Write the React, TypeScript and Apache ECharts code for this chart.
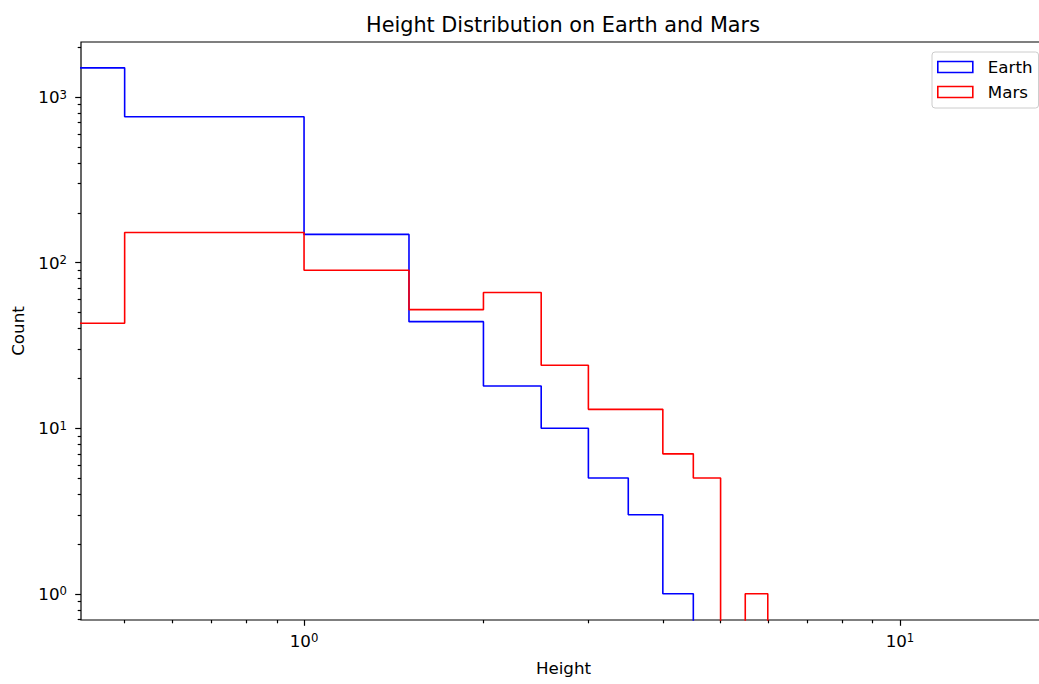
import React, { useEffect, useRef } from "react";
import * as echarts from "echarts";

// Histogram bins (bin width 0.5) and counts per bin
const binEdges = [0, 0.5, 1, 1.5, 2, 2.5, 3, 3.5, 4, 4.5, 5, 5.5, 6];
const earthCounts = [1500, 760, 148, 44, 18, 10, 5, 3, 1, 0, 0, 0];
const marsCounts = [43, 152, 90, 52, 66, 24, 13, 13, 7, 5, 0, 1];

// Log axis tick positions
const xMajorTicks = [1, 10];
const xMinorTicks = [0.5, 0.6, 0.7, 0.8, 0.9, 2, 3, 4, 5, 6, 7, 8, 9];
const yMajorTicks = [1, 10, 100, 1000];
const yMinorTicks = [
  0.7, 0.8, 0.9,
  2, 3, 4, 5, 6, 7, 8, 9,
  20, 30, 40, 50, 60, 70, 80, 90,
  200, 300, 400, 500, 600, 700, 800, 900,
  2000,
];

const X_MIN = 0.4224;
const X_MAX = 17.58;
const Y_MIN = 0.6946;
const Y_MAX = 2149;

// zero / non-positive values sit far below the visible range and get clipped
const LOG_FLOOR = 1e-3;

const FONT = "DejaVu Sans";

function stepOutline(edges: number[], counts: number[]): number[][] {
  const pos = (v: number) => (v > 0 ? v : LOG_FLOOR);
  const pts: number[][] = [[pos(edges[0]), LOG_FLOOR]];
  counts.forEach((c, i) => {
    pts.push([pos(edges[i]), pos(c)]);
    pts.push([edges[i + 1], pos(c)]);
  });
  pts.push([edges[edges.length - 1], LOG_FLOOR]);
  return pts;
}

const powerLabel = (v: number) => `{b|10}{s|${Math.round(Math.log10(v))}}`;

const labelRich = {
  b: { fontSize: 16.7, fontFamily: FONT, color: "#000" },
  s: { fontSize: 11.7, fontFamily: FONT, color: "#000", verticalAlign: "top" },
};

const tickLine = { color: "#000", width: 1.2 };

export default function App() {
  const ref = useRef<HTMLDivElement>(null);

  useEffect(() => {
    if (!ref.current) return;
    const chart = echarts.init(ref.current, null, { renderer: "svg" });

    const logAxisBase = {
      type: "log",
      logBase: 10,
      axisLine: { show: false },
      splitLine: { show: false },
      minorTick: { show: false },
    };

    chart.setOption({
      animation: false,
      backgroundColor: "#fff",
      title: {
        text: "Height Distribution on Earth and Mars",
        left: 558,
        top: 9,
        textAlign: "center",
        textStyle: {
          fontFamily: FONT,
          fontSize: 20.8,
          fontWeight: "normal",
          color: "#000",
        },
      },
      grid: {
        left: 81,
        top: 42,
        right: -7,
        bottom: 64,
        show: true,
        borderColor: "#000",
        borderWidth: 1.2,
        backgroundColor: "transparent",
        containLabel: false,
        outerBoundsMode: "none",
      },
      legend: {
        orient: "vertical",
        left: 932,
        top: 52,
        padding: [5, 6, 6, 5],
        itemGap: 5,
        itemWidth: 35,
        itemHeight: 11,
        backgroundColor: "rgba(255,255,255,0.8)",
        borderColor: "#cccccc",
        borderWidth: 1,
        borderRadius: 3,
        textStyle: {
          fontFamily: FONT,
          fontSize: 16.7,
          color: "#000",
          lineHeight: 20,
          padding: [0, 0, 0, 10],
        },
        data: [
          {
            name: "Earth",
            icon: "rect",
            itemStyle: { color: "rgba(0,0,0,0)", borderColor: "#0000ff", borderWidth: 1.6 },
          },
          {
            name: "Mars",
            icon: "rect",
            itemStyle: { color: "rgba(0,0,0,0)", borderColor: "#ff0000", borderWidth: 1.6 },
          },
        ],
      },
      xAxis: [
        {
          ...logAxisBase,
          min: X_MIN,
          max: X_MAX,
          position: "bottom",
          axisTick: { show: true, customValues: xMajorTicks, length: 5.8, lineStyle: tickLine },
          axisLabel: {
            customValues: xMajorTicks,
            formatter: powerLabel,
            rich: labelRich,
            margin: 12,
          },
          name: "Height",
          nameLocation: "middle",
          nameGap: 39,
          nameTextStyle: { fontFamily: FONT, fontSize: 16.7, color: "#000" },
        },
        {
          ...logAxisBase,
          min: X_MIN,
          max: X_MAX,
          position: "bottom",
          axisTick: { show: true, customValues: xMinorTicks, length: 3.3, lineStyle: tickLine },
          axisLabel: { show: false },
        },
      ],
      yAxis: [
        {
          ...logAxisBase,
          min: Y_MIN,
          max: Y_MAX,
          position: "left",
          axisTick: { show: true, customValues: yMajorTicks, length: 5.8, lineStyle: tickLine },
          axisLabel: {
            customValues: yMajorTicks,
            formatter: powerLabel,
            rich: labelRich,
            margin: 14,
          },
          name: "Count",
          nameLocation: "middle",
          nameGap: 55,
          nameTextStyle: { fontFamily: FONT, fontSize: 16.7, color: "#000" },
        },
        {
          ...logAxisBase,
          min: Y_MIN,
          max: Y_MAX,
          position: "left",
          axisTick: { show: true, customValues: yMinorTicks, length: 3.3, lineStyle: tickLine },
          axisLabel: { show: false },
        },
      ],
      series: [
        {
          name: "Earth",
          type: "line",
          xAxisIndex: 0,
          yAxisIndex: 0,
          data: stepOutline(binEdges, earthCounts),
          showSymbol: false,
          symbol: "none",
          clip: true,
          color: "#0000ff",
          lineStyle: { color: "#0000ff", width: 1.6 },
        },
        {
          name: "Mars",
          type: "line",
          xAxisIndex: 0,
          yAxisIndex: 0,
          data: stepOutline(binEdges, marsCounts),
          showSymbol: false,
          symbol: "none",
          clip: true,
          color: "#ff0000",
          lineStyle: { color: "#ff0000", width: 1.6 },
        },
      ],
    });

    return () => chart.dispose();
  }, []);

  return (
    <div
      ref={ref}
      style={{ position: "fixed", left: 0, top: 0, width: 1039, height: 684 }}
    />
  );
}
